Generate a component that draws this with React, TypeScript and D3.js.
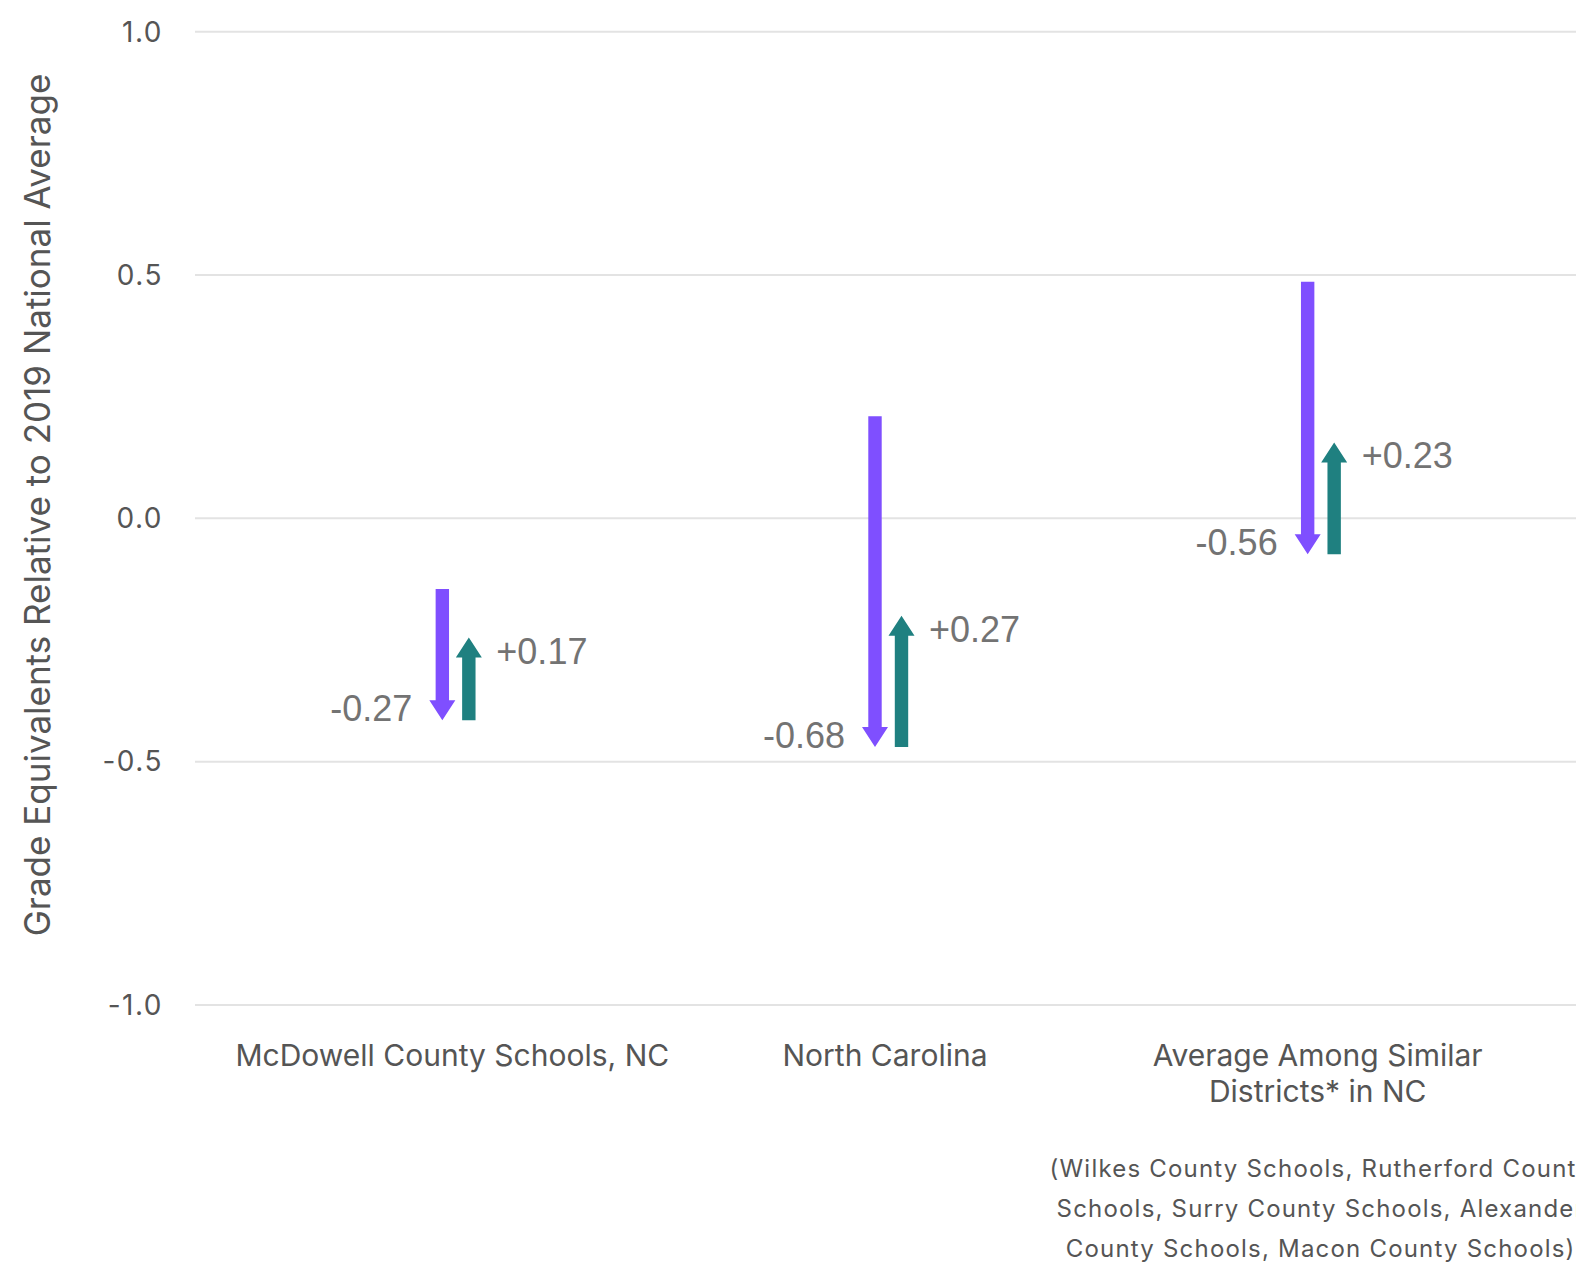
import { useEffect, useRef } from 'react';
import * as d3 from 'd3';

const CATEGORIES = ['McDowell County Schools, NC', 'North Carolina', 'Average Among Similar|Districts* in NC'];
const START_VALUES = [-0.145, 0.21, 0.486];
const DROP_VALUES = [-0.27, -0.68, -0.56];
const RECOVERY_VALUES = [0.17, 0.27, 0.23];
const Y_TICKS = [-1, -0.5, 0, 0.5, 1];
const FOOTNOTE = ['(Wilkes County Schools, Rutherford County', 'Schools, Surry County Schools, Alexander', 'County Schools, Macon County Schools)'];

const PURPLE = '#7F4FFF';
const TEAL = '#1F8080';
const W = 1576;
const H = 1270;

export default function App() {
  const svgRef = useRef<SVGSVGElement>(null);

  useEffect(() => {
    document.body.style.margin = '0';
    const svgEl = svgRef.current;
    if (!svgEl) return;
    const svg = d3.select(svgEl);
    svg.selectAll('*').remove();

    const y = d3.scaleLinear().domain([-1, 1]).range([1005, 31.7]);
    const x = d3.scaleBand<string>().domain(CATEGORIES).range([239, 1537]);
    const cx = (c: string) => (x(c) ?? 0) + x.bandwidth() / 2;
    const axisFont = 'Inter, Roboto, sans-serif';

    // gridlines + tick labels
    svg.append('g').selectAll('line').data(Y_TICKS).join('line')
      .attr('x1', 195).attr('x2', W).attr('y1', (d) => y(d)).attr('y2', (d) => y(d))
      .attr('stroke', '#e3e3e3').attr('stroke-width', 2);
    svg.append('g').selectAll('text').data(Y_TICKS).join('text')
      .attr('x', 163).attr('y', (d) => y(d)).attr('dy', '0.35em')
      .attr('text-anchor', 'end').attr('font-family', axisFont).attr('font-size', 28)
      .attr('letter-spacing', 1.5).attr('fill', '#555')
      .text((d) => d.toFixed(1));

    // y axis title
    svg.append('text').attr('transform', `translate(50,${505}) rotate(-90)`)
      .attr('text-anchor', 'middle').attr('font-family', axisFont).attr('font-size', 35).attr('fill', '#555')
      .text('Grade Equivalents Relative to 2019 National Average');

    // category labels
    svg.append('g').selectAll('text').data(CATEGORIES).join('text')
      .attr('x', (d) => cx(d) - 3).attr('y', 1066)
      .attr('text-anchor', 'middle').attr('font-family', axisFont).attr('font-size', 30).attr('fill', '#555')
      .each(function (d) {
        const t = d3.select(this);
        d.split('|').forEach((line, i) => {
          t.append('tspan').attr('x', cx(d) - 3).attr('dy', i === 0 ? 0 : 36).text(line);
        });
      });

    // footnote under the third category
    svg.append('g').selectAll('text').data(FOOTNOTE).join('text')
      .attr('x', cx(CATEGORIES[2])).attr('y', (_, i) => 1177 + i * 40)
      .attr('text-anchor', 'middle').attr('font-family', axisFont).attr('font-size', 24)
      .attr('letter-spacing', 1.2).attr('fill', '#555')
      .text((d) => d);

    const shaftW = 13.4;
    const headW = 26;
    const headL = 20;
    const arrowPath = (xc: number, y0: number, y1: number) => {
      const dir = y1 > y0 ? 1 : -1;
      const base = y1 - dir * headL;
      return `M${xc - shaftW / 2},${y0}L${xc + shaftW / 2},${y0}L${xc + shaftW / 2},${base}` +
        `L${xc + headW / 2},${base}L${xc},${y1}L${xc - headW / 2},${base}L${xc - shaftW / 2},${base}Z`;
    };

    const rows = CATEGORIES.map((c, i) => ({
      c,
      start: START_VALUES[i],
      mid: START_VALUES[i] + DROP_VALUES[i],
      end: START_VALUES[i] + DROP_VALUES[i] + RECOVERY_VALUES[i],
      drop: DROP_VALUES[i],
      rec: RECOVERY_VALUES[i],
    }));

    const labelFont = '"Liberation Sans", Arial, sans-serif';
    const g = svg.append('g');
    // drop arrows
    g.selectAll('.drop').data(rows).join('path').attr('class', 'drop')
      .attr('d', (d) => arrowPath(cx(d.c) - 13, y(d.start), y(d.mid)))
      .attr('fill', PURPLE);
    // recovery arrows
    g.selectAll('.rec').data(rows).join('path').attr('class', 'rec')
      .attr('d', (d) => arrowPath(cx(d.c) + 13.5, y(d.mid), y(d.end)))
      .attr('fill', TEAL);

    g.selectAll('.drop-label').data(rows).join('text').attr('class', 'drop-label')
      .attr('x', (d) => cx(d.c) - 43).attr('y', (d) => y(d.mid) + 1)
      .attr('text-anchor', 'end').attr('font-family', labelFont).attr('font-size', 36).attr('fill', '#737373')
      .text((d) => d.drop.toFixed(2));
    g.selectAll('.rec-label').data(rows).join('text').attr('class', 'rec-label')
      .attr('x', (d) => cx(d.c) + 41).attr('y', (d) => y(d.end) + 26)
      .attr('text-anchor', 'start').attr('font-family', labelFont).attr('font-size', 36).attr('fill', '#737373')
      .text((d) => `+${d.rec.toFixed(2)}`);
  }, []);

  return <svg ref={svgRef} width={W} height={H} style={{ display: 'block', background: '#fff' }} />;
}
